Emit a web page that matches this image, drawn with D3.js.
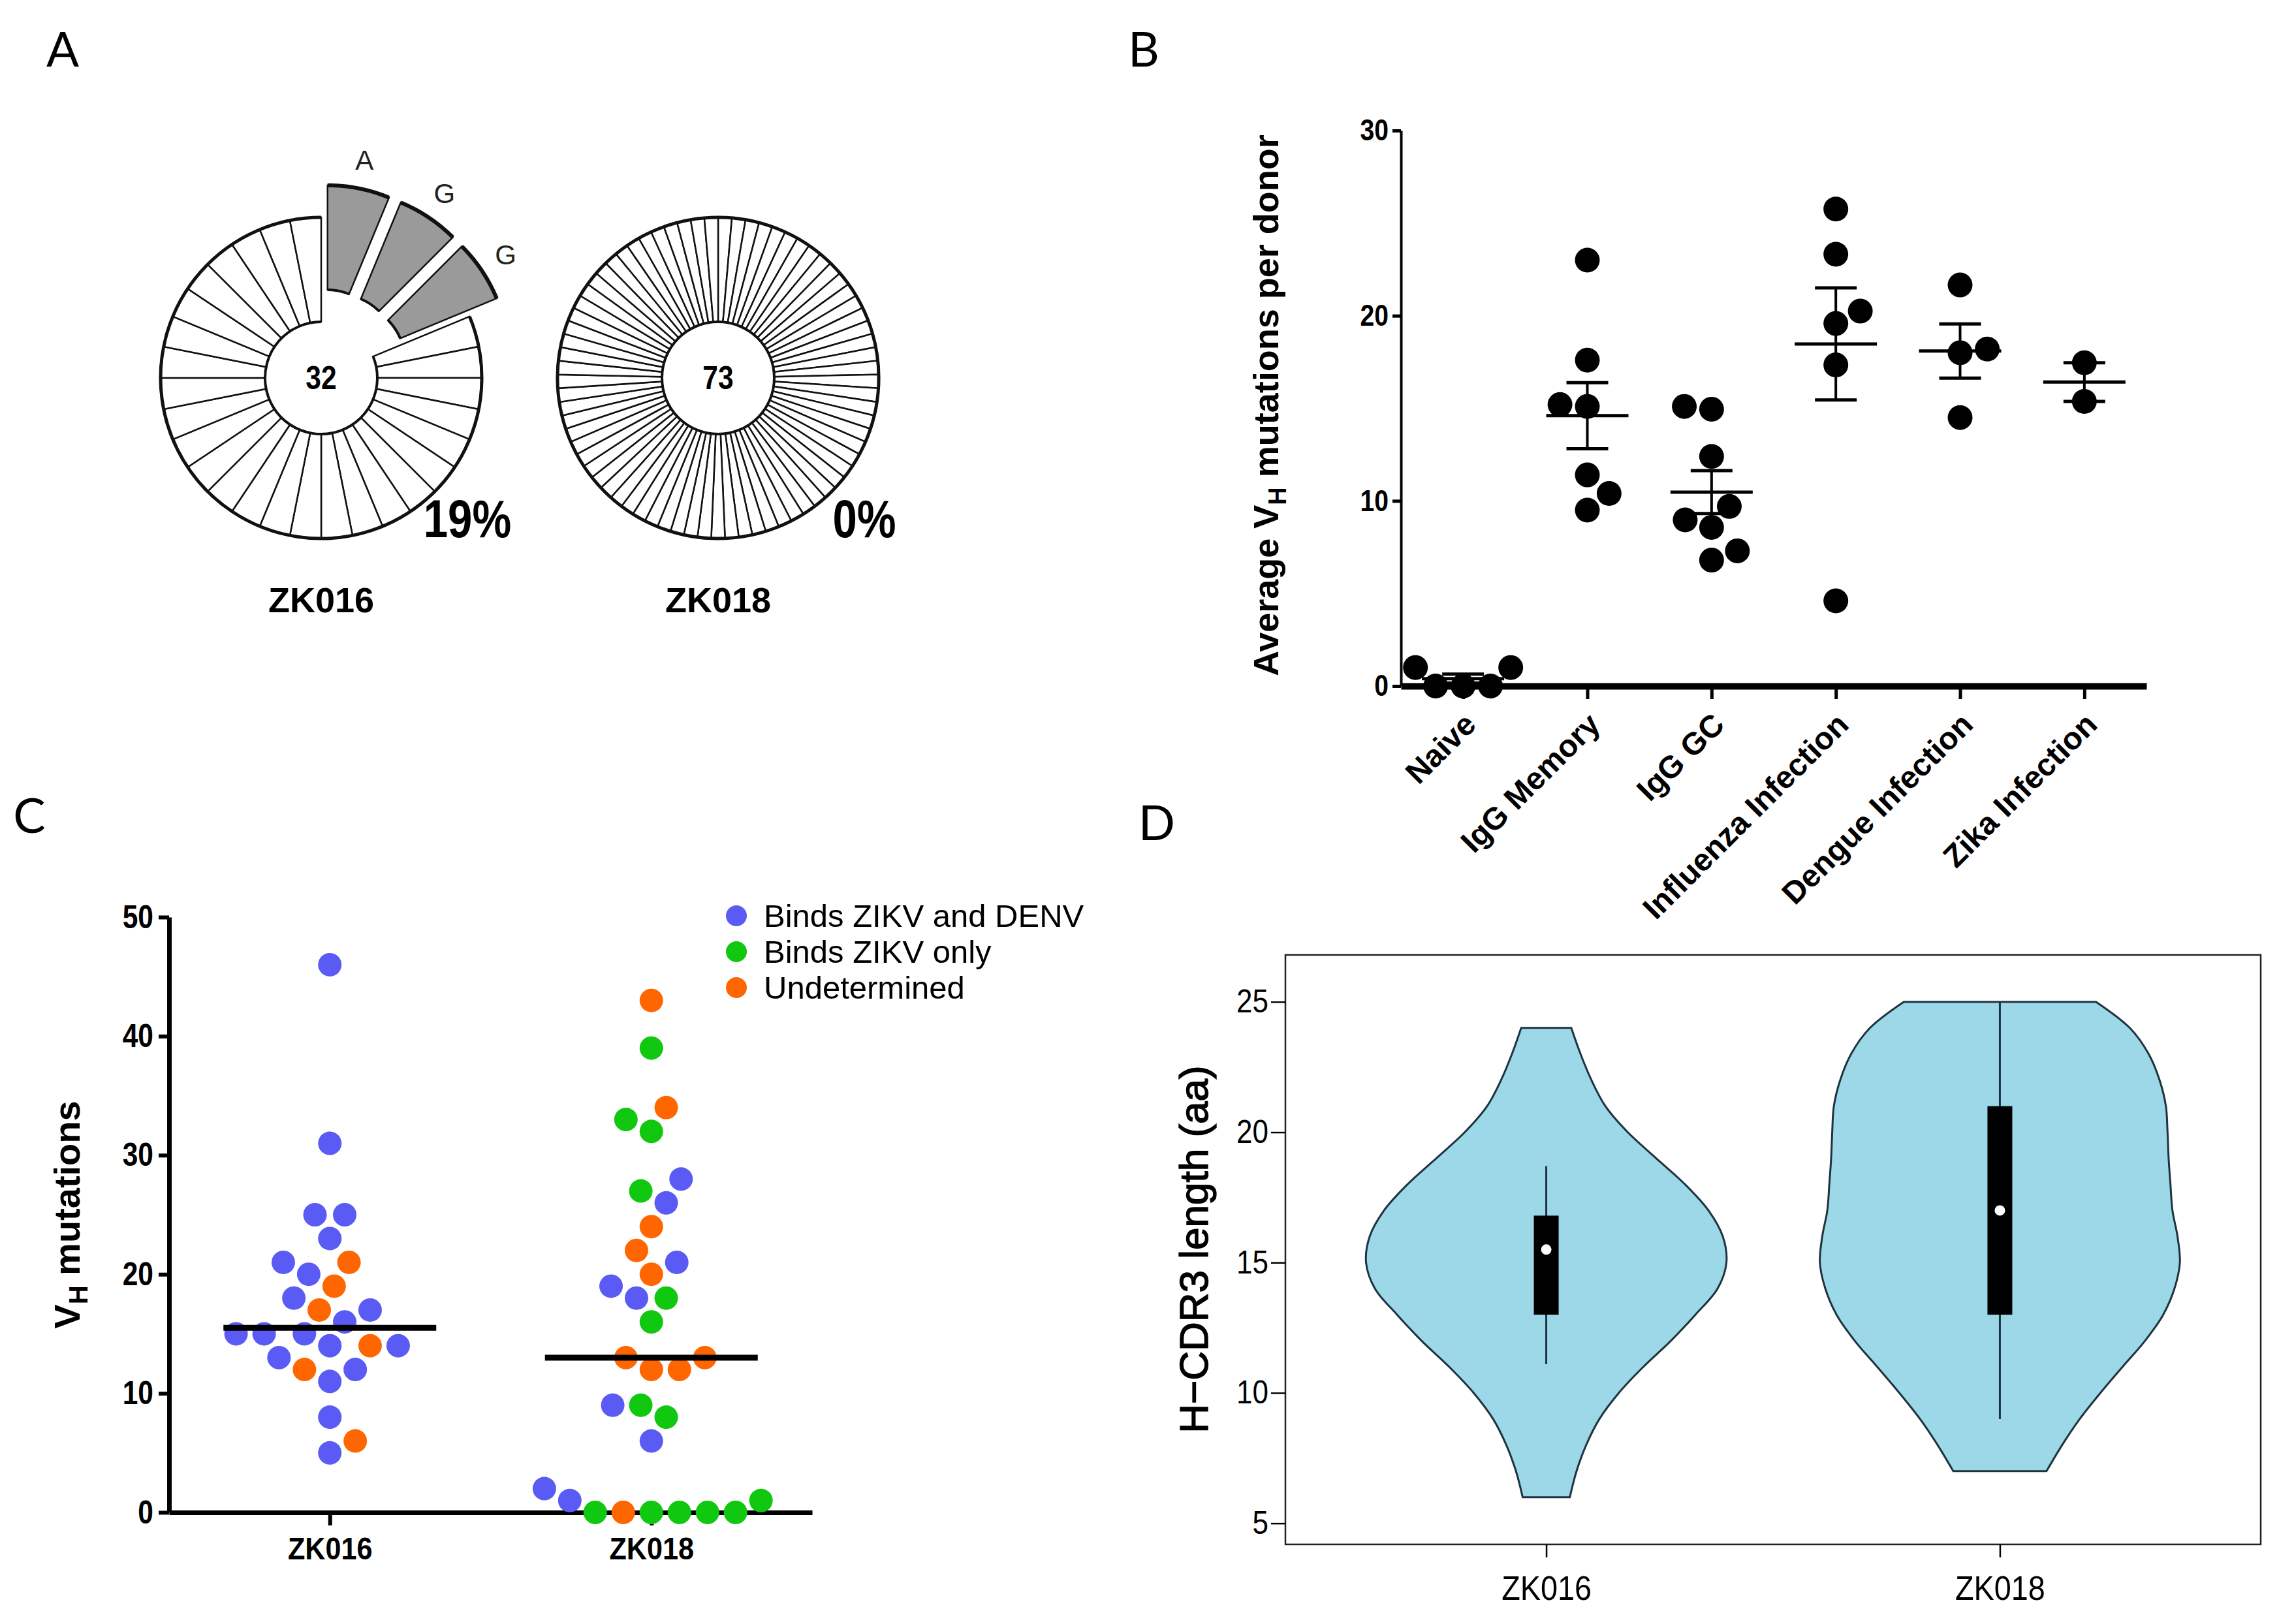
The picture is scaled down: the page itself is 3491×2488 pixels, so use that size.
<!DOCTYPE html>
<html>
<head>
<meta charset="utf-8">
<script src="https://cdn.jsdelivr.net/npm/d3@7"></script>
<style>
body { margin: 0; background: #fff; }
svg { display: block; }
</style>
</head>
<body>
<svg id="fig"></svg>
<script>
// ---------- data ----------
// panel A
var donors = ["ZK016", "ZK018"];
var cloneTotals = [32, 73];
var sharedPct = ["19%", "0%"];
var zk016Shared = [2, 2, 2];
var zk016SharedLetters = ["A", "G", "G"];
var zk016Singletons = 26;
var zk018Singletons = 73;

// panel B
var groupsB = ["Naive", "IgG Memory", "IgG GC", "Influenza Infection", "Dengue Infection", "Zika Infection"];
var naive = [1.0, 1.0, 0, 0, 0];
var iggMemory = [23.0, 17.6, 15.2, 15.1, 11.4, 10.4, 9.5];
var iggGC = [15.1, 14.95, 12.4, 9.7, 8.97, 8.57, 7.3, 6.8];
var influenza = [25.76, 23.32, 20.25, 19.58, 17.34, 4.6];
var dengue = [21.66, 18.2, 18.0, 14.5];
var zika = [17.46, 15.37];
var ticksB = [0, 10, 20, 30];

// panel C
var bindClasses = ["both", "zikv", "und"];
var legendC = ["Binds ZIKV and DENV", "Binds ZIKV only", "Undetermined"];
var zk016Vh = [46, 31, 25, 25, 23, 21, 21, 20, 19, 18, 17, 17, 16, 15, 15, 15, 14, 14, 14, 13, 12, 12, 11, 8, 6, 5];
var zk016Bind = ["both", "both", "both", "both", "both", "und", "both", "both", "und", "both", "und", "both", "both",
                 "both", "both", "both", "both", "und", "both", "both", "und", "both", "both", "both", "und", "both"];
var zk018Vh = [43, 39, 34, 33, 32, 28, 27, 26, 24, 22, 21, 20, 19, 18, 18, 16, 13, 13, 12, 12, 9, 9, 8, 6, 2, 1, 0, 0, 0, 0, 0, 0, 1];
var zk018Bind = ["und", "zikv", "und", "zikv", "zikv", "both", "zikv", "both", "und", "und", "both", "und", "both", "both",
                 "zikv", "zikv", "und", "und", "und", "und", "zikv", "both", "zikv", "both", "both", "both",
                 "zikv", "zikv", "und", "zikv", "zikv", "zikv", "zikv"];
var ticksC = [0, 10, 20, 30, 40, 50];

// panel D (violin half-width relative to widest point)
var zk016Levels = [6, 7, 8, 9, 10, 11, 12, 13, 14, 15, 16, 17, 18, 19, 20, 21, 22, 23, 24];
var zk016Dens = [0.13, 0.167, 0.22, 0.293, 0.40, 0.535, 0.687, 0.822, 0.944, 0.993, 0.973, 0.894, 0.765, 0.606, 0.449, 0.326, 0.249, 0.189, 0.138];
var zk018Levels = [7, 8, 9, 10, 11, 12, 13, 14, 15, 16, 17, 18, 19, 20, 21, 22, 23, 24, 25];
var zk018Dens = [0.257, 0.343, 0.44, 0.554, 0.676, 0.80, 0.90, 0.962, 0.992, 0.979, 0.951, 0.94, 0.93, 0.924, 0.915, 0.88, 0.82, 0.716, 0.53];
var whiskerLo = [11.1, 9];
var whiskerHi = [18.7, 25];
var q1 = [13, 13];
var q3 = [16.8, 21];
var medianD = [15.5, 17];
var ticksD = [5, 10, 15, 20, 25];

// ---------- setup ----------
var W = 3491, H = 2488;
var ARIAL = "'Liberation Sans', Arial, Helvetica, sans-serif";
var svg = d3.select("#fig").attr("width", W).attr("height", H);
svg.append("rect").attr("width", W).attr("height", H).attr("fill", "#fff");

// panel letters
var panelLetters = ["A", "B", "C", "D"];
var letterPos = [[96, 73], [1752, 73], [45, 1247], [1772, 1258]];
svg.selectAll(".plabel").data(panelLetters).enter().append("text")
    .attr("x", (d, i) => letterPos[i][0])
    .attr("y", (d, i) => letterPos[i][1])
    .attr("text-anchor", "middle")
    .attr("dominant-baseline", "central")
    .attr("font-family", "Lato, 'Open Sans', sans-serif")
    .attr("font-size", 74)
    .text(d => d);

function styleAxis(g, size, weight, domainW, tickW) {
    g.attr("font-family", ARIAL).attr("font-size", size).attr("font-weight", weight);
    g.select(".domain").attr("stroke", "#000").attr("stroke-width", domainW);
    g.selectAll(".tick line").attr("stroke", "#000").attr("stroke-width", tickW);
    g.selectAll(".tick text").attr("fill", "#000");
}

// squeeze glyphs horizontally (no narrow face installed)
function narrow(sel, k) {
    sel.each(function() {
        var t = d3.select(this), x = +t.attr("x") || 0;
        t.attr("x", x / k).attr("transform", "scale(" + k + ",1)");
    });
}

// simple beeswarm: place points (pixel y) at smallest offset with no collision
function swarmOffsets(ys, D) {
    var placed = [], out = [], side = 1;
    ys.forEach(function(y) {
        var cands = [0];
        placed.forEach(function(p) {
            var dy = Math.abs(p.y - y);
            if (dy < D) {
                var dx = Math.sqrt(D * D - dy * dy);
                cands.push(p.x + dx, p.x - dx);
            }
        });
        var ok = cands.filter(function(c) {
            return placed.every(function(p) {
                return (p.x - c) * (p.x - c) + (p.y - y) * (p.y - y) >= D * D - 0.5;
            });
        });
        ok.sort(function(a, b) { return (Math.abs(a) - Math.abs(b)) || side * (b - a); });
        var x = ok[0];
        if (x !== 0) side = x > 0 ? -1 : 1;
        placed.push({x: x, y: y});
        out.push(x);
    });
    return out;
}

// ---------- panel A ----------
var rOut = 246, rIn = 86, explode = 50;
var centersA = [[492, 579], [1100, 579]];
var arcA = d3.arc().innerRadius(rIn).outerRadius(rOut);
var pieA = d3.pie().sort(null).value(d => d.v);

function ringLine(r, a0, a1) {
    var p = d3.path();
    p.arc(0, 0, r, a0 - Math.PI / 2, a1 - Math.PI / 2);
    return p.toString();
}

var slices016 = zk016Shared.map((v, i) => ({v: v, shared: true, letter: zk016SharedLetters[i]}))
    .concat(d3.range(zk016Singletons).map(() => ({v: 1, shared: false})));
var slices018 = d3.range(zk018Singletons).map(() => ({v: 1, shared: false}));

[slices016, slices018].forEach(function(slices, di) {
    var g = svg.append("g").attr("transform", "translate(" + centersA[di] + ")");
    var arcs = pieA(slices);
    function shift(d) {
        if (!d.data.shared) return [0, 0];
        var m = (d.startAngle + d.endAngle) / 2;
        return [Math.sin(m) * explode, -Math.cos(m) * explode];
    }
    var sl = g.selectAll(".slice").data(arcs).enter().append("g")
        .attr("transform", d => "translate(" + shift(d) + ")");
    sl.append("path").attr("d", arcA)
        .attr("fill", d => d.data.shared ? "#9a9a9a" : "#fff")
        .attr("stroke", "#111").attr("stroke-width", 2.5);
    var sh = sl.filter(d => d.data.shared);
    sh.append("path")
        .attr("d", d => ringLine(rOut, d.startAngle, d.endAngle))
        .attr("fill", "none").attr("stroke", "#111").attr("stroke-width", 6);
    sh.append("path")
        .attr("d", d => ringLine(rIn, d.startAngle, d.endAngle))
        .attr("fill", "none").attr("stroke", "#111").attr("stroke-width", 4);
    sh.append("text")
        .attr("transform", d => "translate(" + arcA.centroid(d) + ")")
        .attr("text-anchor", "middle").attr("dominant-baseline", "central")
        .attr("font-family", ARIAL).attr("font-size", 42).attr("fill", "#222")
        .text(d => d.v);
    sh.append("text")
        .attr("transform", function(d) {
            var m = (d.startAngle + d.endAngle) / 2, rr = 340 - explode;
            return "translate(" + [Math.sin(m) * rr, -Math.cos(m) * rr] + ")";
        })
        .attr("text-anchor", "middle").attr("dominant-baseline", "central")
        .attr("font-family", ARIAL).attr("font-size", 42).attr("fill", "#222")
        .text(d => d.data.letter);
    // rims of the unshared part
    var plain = arcs.filter(d => !d.data.shared);
    var a0 = d3.min(plain, d => d.startAngle), a1 = d3.max(plain, d => d.endAngle);
    g.append("path").attr("d", ringLine(rOut, a0, a1))
        .attr("fill", "none").attr("stroke", "#111").attr("stroke-width", 5);
    g.append("path").attr("d", ringLine(rIn, a0, a1))
        .attr("fill", "none").attr("stroke", "#111").attr("stroke-width", 4);
    var tot = g.append("text").attr("text-anchor", "middle").attr("dominant-baseline", "central")
        .attr("font-family", ARIAL).attr("font-weight", "bold").attr("font-size", 50)
        .text(cloneTotals[di]);
    narrow(tot, 0.85);
    var pc = g.append("text").attr("x", 224).attr("y", 216)
        .attr("text-anchor", "middle").attr("dominant-baseline", "central")
        .attr("font-family", ARIAL).attr("font-weight", "bold").attr("font-size", 82)
        .text(sharedPct[di]);
    narrow(pc, 0.82);
    g.append("text").attr("y", 340)
        .attr("text-anchor", "middle").attr("dominant-baseline", "central")
        .attr("font-family", ARIAL).attr("font-weight", "bold").attr("font-size", 54)
        .text(donors[di]);
});

// ---------- panel B ----------
var seriesB = [naive, iggMemory, iggGC, influenza, dengue, zika];
var xB = d3.scalePoint().domain(groupsB).range([2146, 3288]).padding(0.5);
var yB = d3.scaleLinear().domain([0, 30]).range([1051, 200]);

var gyB = svg.append("g").attr("transform", "translate(2146,0)")
    .call(d3.axisLeft(yB).tickValues(ticksB).tickSize(13).tickSizeOuter(0).tickPadding(6));
styleAxis(gyB, 46, "bold", 4, 5);
narrow(gyB.selectAll(".tick text"), 0.85);

var gxB = svg.append("g").attr("transform", "translate(0,1051)")
    .call(d3.axisBottom(xB).tickSize(20).tickSizeOuter(0));
styleAxis(gxB, 48, "bold", 10, 5);
gxB.selectAll(".tick text")
    .attr("text-anchor", "end")
    .attr("transform", "translate(10,50) rotate(-45)")
    .attr("x", 0).attr("y", 0).attr("dy", "0.35em");

var yTitleB = svg.append("text")
    .attr("transform", "translate(1958,621) rotate(-90)")
    .attr("text-anchor", "middle")
    .attr("font-family", ARIAL).attr("font-weight", "bold").attr("font-size", 54);
yTitleB.append("tspan").text("Average V");
yTitleB.append("tspan").attr("font-size", 38).attr("dy", 12).text("H");
yTitleB.append("tspan").attr("dy", -12).text(" mutations per donor");

groupsB.forEach(function(name, gi) {
    var vals = seriesB[gi];
    var cx = xB(name);
    var order = d3.range(vals.length).sort((a, b) => vals[a] - vals[b]);
    var ys = order.map(i => yB(vals[i]));
    var offs = swarmOffsets(ys, 42);
    var g = svg.append("g");
    g.selectAll("circle").data(ys).enter().append("circle")
        .attr("cx", (d, k) => cx + offs[k]).attr("cy", d => d)
        .attr("r", 19).attr("fill", "#000");
    var m = d3.mean(vals), sem = d3.deviation(vals) / Math.sqrt(vals.length);
    g.append("line").attr("x1", cx - 63).attr("x2", cx + 63)
        .attr("y1", yB(m)).attr("y2", yB(m)).attr("stroke", "#000").attr("stroke-width", 5);
    g.append("line").attr("x1", cx).attr("x2", cx)
        .attr("y1", yB(m - sem)).attr("y2", yB(m + sem)).attr("stroke", "#000").attr("stroke-width", 4);
    [m - sem, m + sem].forEach(function(v) {
        g.append("line").attr("x1", cx - 32).attr("x2", cx + 32)
            .attr("y1", yB(v)).attr("y2", yB(v)).attr("stroke", "#000").attr("stroke-width", 5);
    });
});

// ---------- panel C ----------
var colorC = d3.scaleOrdinal().domain(bindClasses).range(["#5a5af5", "#10c810", "#ff6600"]);
var xC = d3.scalePoint().domain(donors).range([259, 1244]).padding(0.5);
var yC = d3.scaleLinear().domain([0, 50]).range([2317, 1405]);

var gyC = svg.append("g").attr("transform", "translate(259,0)")
    .call(d3.axisLeft(yC).tickValues(ticksC).tickSize(16).tickSizeOuter(0).tickPadding(8));
styleAxis(gyC, 50, "bold", 7, 6);
narrow(gyC.selectAll(".tick text"), 0.85);
var gxC = svg.append("g").attr("transform", "translate(0,2317)")
    .call(d3.axisBottom(xC).tickSize(20).tickSizeOuter(0).tickPadding(18));
styleAxis(gxC, 48, "bold", 7, 6);
narrow(gxC.selectAll(".tick text"), 0.9);

var yTitleC = svg.append("text")
    .attr("transform", "translate(122,1861) rotate(-90)")
    .attr("text-anchor", "middle")
    .attr("font-family", ARIAL).attr("font-weight", "bold").attr("font-size", 56);
yTitleC.append("tspan").text("V");
yTitleC.append("tspan").attr("font-size", 40).attr("dy", 12).text("H");
yTitleC.append("tspan").attr("dy", -12).text(" mutations");

[[zk016Vh, zk016Bind], [zk018Vh, zk018Bind]].forEach(function(s, di) {
    var vals = s[0], cls = s[1];
    var cx = xC(donors[di]);
    var order = d3.range(vals.length).sort((a, b) => vals[a] - vals[b]);
    var ys = order.map(i => yC(vals[i]));
    var offs = swarmOffsets(ys, 43);
    var g = svg.append("g");
    g.selectAll("circle").data(order).enter().append("circle")
        .attr("cx", (d, k) => cx + offs[k]).attr("cy", (d, k) => ys[k])
        .attr("r", 18).attr("fill", d => colorC(cls[d]));
    var med = d3.median(vals);
    g.append("line").attr("x1", cx - 163).attr("x2", cx + 163)
        .attr("y1", yC(med)).attr("y2", yC(med)).attr("stroke", "#000").attr("stroke-width", 9);
});

var legC = svg.append("g").attr("transform", "translate(1128,1403)");
legC.selectAll("circle").data(bindClasses).enter().append("circle")
    .attr("cx", 0).attr("cy", (d, i) => i * 55).attr("r", 16).attr("fill", d => colorC(d));
legC.selectAll("text").data(legendC).enter().append("text")
    .attr("x", 42).attr("y", (d, i) => i * 55).attr("dominant-baseline", "central")
    .attr("font-family", ARIAL).attr("font-size", 49).text(d => d);

// ---------- panel D ----------
var xD = d3.scaleLinear().domain([0.425, 2.575]).range([1969, 3463]);
var yD = d3.scaleLinear().domain([4.19, 26.8]).range([2366, 1463]);
var xPosD = [1, 2];

svg.append("rect").attr("x", xD.range()[0]).attr("y", yD.range()[1])
    .attr("width", xD.range()[1] - xD.range()[0]).attr("height", yD.range()[0] - yD.range()[1])
    .attr("fill", "none").attr("stroke", "#222").attr("stroke-width", 2.5);
var gyD = svg.append("g").attr("transform", "translate(1969,0)")
    .call(d3.axisLeft(yD).tickValues(ticksD).tickSize(22).tickSizeOuter(0).tickPadding(4));
styleAxis(gyD, 50, "normal", 0, 2.5);
narrow(gyD.selectAll(".tick text"), 0.88);
var gxD = svg.append("g").attr("transform", "translate(0,2366)")
    .call(d3.axisBottom(xD).tickValues(xPosD).tickSize(20).tickSizeOuter(0).tickPadding(28).tickFormat((d, i) => donors[i]));
styleAxis(gxD, 52, "normal", 0, 2.5);
narrow(gxD.selectAll(".tick text"), 0.9);

svg.append("text")
    .attr("transform", "translate(1850,1914) rotate(-90)")
    .attr("text-anchor", "middle")
    .attr("font-family", ARIAL).attr("font-size", 62)
    .attr("stroke", "#000").attr("stroke-width", 1.4)
    .text("H\u2212CDR3 length (aa)");

var violins = [[zk016Levels, zk016Dens], [zk018Levels, zk018Dens]];
violins.forEach(function(vd, di) {
    var pos = xPosD[di];
    var pts = vd[0].map((lv, k) => ({v: lv, w: vd[1][k] * 0.4}));
    var area = d3.area()
        .y(d => yD(d.v))
        .x0(d => xD(pos - d.w))
        .x1(d => xD(pos + d.w))
        .curve(d3.curveCatmullRom);
    svg.append("path").attr("d", area(pts))
        .attr("fill", "#9cd8e8").attr("stroke", "#1e3340").attr("stroke-width", 3);
    var cx = xD(pos);
    svg.append("line").attr("x1", cx).attr("x2", cx)
        .attr("y1", yD(whiskerLo[di])).attr("y2", yD(whiskerHi[di]))
        .attr("stroke", "#1e3340").attr("stroke-width", 3);
    svg.append("rect").attr("x", cx - 19).attr("width", 38)
        .attr("y", yD(q3[di])).attr("height", yD(q1[di]) - yD(q3[di]))
        .attr("fill", "#000");
    svg.append("circle").attr("cx", cx).attr("cy", yD(medianD[di])).attr("r", 8).attr("fill", "#fff");
});
</script>
</body>
</html>
